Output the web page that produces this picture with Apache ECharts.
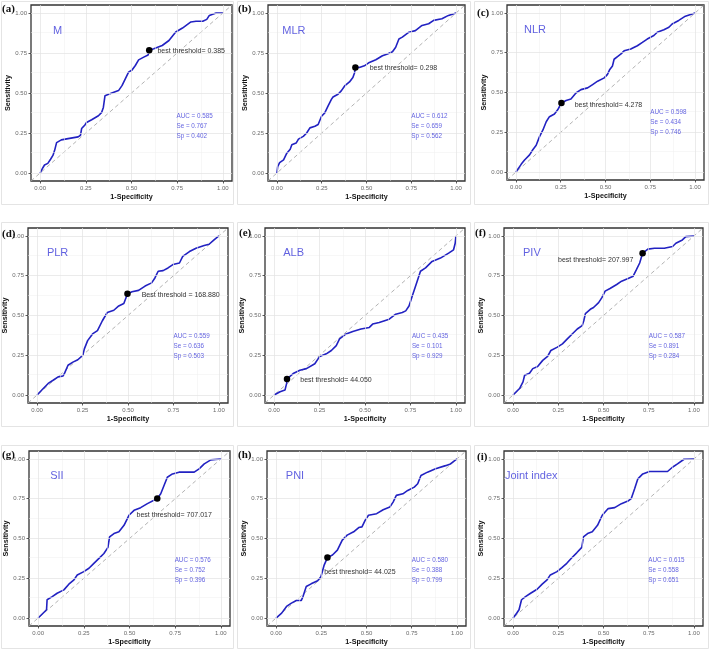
<!DOCTYPE html>
<html><head><meta charset="utf-8">
<script src="https://cdn.jsdelivr.net/npm/echarts@6/dist/echarts.min.js"></script>
<style>html,body{margin:0;padding:0;background:#fff}#c{width:709px;height:650px}</style>
</head><body><div id="c"></div>
<script>
// ---------------- data ----------------
const tickValues = [0, 0.25, 0.5, 0.75, 1];
const minorValues = [0.125, 0.375, 0.625, 0.875];
const panelTags = ['(a)', '(b)', '(c)', '(d)', '(e)', '(f)', '(g)', '(h)', '(i)'];
const markerNames = ['M', 'MLR', 'NLR', 'PLR', 'ALB', 'PIV', 'SII', 'PNI', 'Joint index'];
const aucValues = ['0.585', '0.612', '0.598', '0.559', '0.435', '0.587', '0.576', '0.580', '0.615'];
const seValues = ['0.767', '0.659', '0.434', '0.636', '0.101', '0.891', '0.752', '0.388', '0.558'];
const spValues = ['0.402', '0.562', '0.746', '0.503', '0.929', '0.284', '0.396', '0.799', '0.651'];
const thresholdTexts = ['best threshold= 0.385', 'best threshold= 0.298', 'best threshold= 4.278',
  'Best threshold = 168.880', 'best threshold= 44.050', 'best threshold= 207.997',
  'best threshold= 707.017', 'best threshold= 44.025', null];
const bestPoints = [[0.597, 0.767], [0.438, 0.659], [0.254, 0.434], [0.497, 0.636], [0.071, 0.101],
  [0.716, 0.891], [0.652, 0.752], [0.284, 0.38], null];

const rocM = [[0,0],[0.015,0.033],[0.024,0.05],[0.042,0.06],[0.057,0.086],[0.07,0.11],[0.079,0.14],[0.085,0.15],[0.09,0.19],[0.1,0.2],[0.116,0.207],[0.153,0.215],[0.208,0.226],[0.221,0.236],[0.227,0.278],[0.245,0.30],[0.254,0.316],[0.282,0.333],[0.319,0.358],[0.337,0.379],[0.346,0.41],[0.355,0.483],[0.365,0.494],[0.392,0.5],[0.429,0.515],[0.448,0.546],[0.484,0.63],[0.503,0.644],[0.521,0.672],[0.539,0.707],[0.567,0.724],[0.591,0.738],[0.597,0.767],[0.622,0.776],[0.668,0.797],[0.705,0.828],[0.742,0.881],[0.779,0.906],[0.825,0.944],[0.853,0.948],[0.89,0.948],[0.912,0.96],[0.926,0.985],[0.935,0.996],[0.963,1],[1,1]];
const rocMLR = [[0,0],[0.004,0.04],[0.015,0.065],[0.037,0.082],[0.055,0.124],[0.074,0.149],[0.083,0.176],[0.107,0.187],[0.12,0.212],[0.147,0.229],[0.166,0.25],[0.184,0.282],[0.212,0.292],[0.23,0.303],[0.249,0.355],[0.267,0.376],[0.285,0.418],[0.304,0.46],[0.313,0.475],[0.341,0.492],[0.359,0.513],[0.378,0.544],[0.405,0.569],[0.424,0.597],[0.433,0.625],[0.438,0.659],[0.46,0.66],[0.488,0.67],[0.516,0.691],[0.552,0.708],[0.589,0.733],[0.617,0.744],[0.645,0.758],[0.663,0.786],[0.681,0.838],[0.7,0.849],[0.737,0.88],[0.773,0.89],[0.81,0.922],[0.847,0.933],[0.875,0.954],[0.921,0.964],[0.958,0.985],[1,1]];
const rocNLR = [[0,0],[0.007,0.004],[0.03,0.05],[0.048,0.076],[0.076,0.108],[0.094,0.14],[0.113,0.168],[0.131,0.221],[0.15,0.263],[0.169,0.316],[0.187,0.348],[0.215,0.365],[0.233,0.391],[0.254,0.434],[0.28,0.45],[0.307,0.459],[0.335,0.497],[0.363,0.518],[0.4,0.529],[0.428,0.55],[0.456,0.571],[0.493,0.592],[0.511,0.614],[0.524,0.645],[0.539,0.667],[0.548,0.709],[0.567,0.726],[0.585,0.741],[0.604,0.762],[0.641,0.773],[0.678,0.794],[0.706,0.815],[0.733,0.836],[0.77,0.858],[0.789,0.879],[0.826,0.895],[0.854,0.91],[0.872,0.931],[0.909,0.953],[0.946,0.98],[1,1]];
const rocPLR = [[0,0],[0.007,0.004],[0.034,0.041],[0.061,0.073],[0.088,0.093],[0.116,0.114],[0.143,0.12],[0.152,0.139],[0.17,0.187],[0.197,0.207],[0.224,0.222],[0.251,0.249],[0.26,0.29],[0.278,0.342],[0.305,0.384],[0.332,0.405],[0.359,0.467],[0.386,0.519],[0.422,0.533],[0.449,0.56],[0.477,0.575],[0.489,0.612],[0.497,0.636],[0.522,0.649],[0.558,0.658],[0.594,0.685],[0.63,0.705],[0.648,0.736],[0.666,0.778],[0.693,0.782],[0.72,0.799],[0.747,0.82],[0.783,0.83],[0.801,0.871],[0.838,0.902],[0.874,0.923],[0.919,0.94],[0.946,0.948],[0.973,0.975],[1,1]];
const rocALB = [[0,0],[0.005,0.01],[0.033,0.021],[0.06,0.031],[0.069,0.073],[0.071,0.101],[0.105,0.135],[0.142,0.156],[0.178,0.166],[0.224,0.197],[0.251,0.243],[0.287,0.259],[0.315,0.28],[0.342,0.311],[0.36,0.353],[0.396,0.384],[0.433,0.4],[0.478,0.415],[0.524,0.425],[0.542,0.446],[0.578,0.456],[0.633,0.477],[0.669,0.508],[0.705,0.519],[0.724,0.529],[0.742,0.56],[0.76,0.622],[0.787,0.716],[0.805,0.778],[0.833,0.799],[0.869,0.84],[0.915,0.861],[0.96,0.892],[0.987,0.913],[0.996,0.954],[1,1]];
const rocPIV = [[0,0],[0.009,0.01],[0.036,0.041],[0.055,0.083],[0.064,0.124],[0.091,0.137],[0.109,0.166],[0.136,0.18],[0.164,0.218],[0.191,0.243],[0.209,0.28],[0.245,0.301],[0.273,0.322],[0.3,0.353],[0.327,0.384],[0.355,0.415],[0.382,0.436],[0.391,0.467],[0.4,0.512],[0.427,0.539],[0.445,0.55],[0.473,0.581],[0.491,0.612],[0.509,0.653],[0.536,0.67],[0.573,0.695],[0.6,0.716],[0.636,0.732],[0.664,0.747],[0.682,0.788],[0.7,0.83],[0.716,0.891],[0.745,0.917],[0.782,0.923],[0.836,0.923],[0.882,0.934],[0.9,0.954],[0.936,0.975],[0.955,0.996],[1,1]];
const rocSII = [[0,0],[0.007,0.01],[0.031,0.035],[0.046,0.052],[0.049,0.115],[0.077,0.135],[0.104,0.156],[0.141,0.177],[0.168,0.213],[0.196,0.24],[0.214,0.271],[0.25,0.292],[0.278,0.313],[0.305,0.344],[0.333,0.375],[0.36,0.406],[0.382,0.444],[0.391,0.51],[0.415,0.531],[0.442,0.542],[0.47,0.583],[0.497,0.646],[0.525,0.677],[0.561,0.694],[0.598,0.719],[0.634,0.74],[0.652,0.752],[0.671,0.781],[0.689,0.833],[0.707,0.885],[0.735,0.906],[0.771,0.917],[0.854,0.917],[0.881,0.938],[0.909,0.969],[0.945,0.994],[1,1]];
const rocPNI = [[0,0],[0.007,0.006],[0.031,0.031],[0.058,0.073],[0.085,0.094],[0.112,0.11],[0.139,0.11],[0.149,0.135],[0.167,0.198],[0.194,0.215],[0.23,0.235],[0.248,0.26],[0.266,0.333],[0.284,0.38],[0.312,0.396],[0.339,0.427],[0.366,0.49],[0.393,0.521],[0.429,0.542],[0.457,0.569],[0.475,0.573],[0.493,0.615],[0.511,0.646],[0.556,0.656],[0.592,0.681],[0.629,0.698],[0.647,0.729],[0.665,0.771],[0.701,0.781],[0.728,0.802],[0.764,0.823],[0.783,0.844],[0.801,0.896],[0.837,0.917],[0.882,0.938],[0.937,0.958],[0.964,0.969],[1,1]];
const rocJoint = [[0,0],[0.005,0.01],[0.02,0.03],[0.033,0.052],[0.047,0.115],[0.069,0.135],[0.097,0.156],[0.133,0.181],[0.161,0.213],[0.188,0.24],[0.206,0.271],[0.243,0.292],[0.27,0.317],[0.297,0.344],[0.325,0.379],[0.352,0.41],[0.38,0.444],[0.389,0.51],[0.412,0.531],[0.438,0.542],[0.467,0.583],[0.493,0.646],[0.526,0.688],[0.562,0.694],[0.599,0.719],[0.635,0.735],[0.653,0.75],[0.672,0.813],[0.69,0.875],[0.717,0.906],[0.754,0.921],[0.854,0.921],[0.881,0.948],[0.909,0.969],[0.945,0.998],[1,1]];
const curves = [rocM, rocMLR, rocNLR, rocPLR, rocALB, rocPIV, rocSII, rocPNI, rocJoint];
const diagonal = [[-0.05, -0.05], [1.05, 1.05]];

// ---------------- layout / style ----------------
const frames = [[31,5,201,176],[268,5,197,176],[507,5,197,175],
                [28,228,200,175],[265,228,200,175],[504,228,199,175],
                [29,451,201,175],[267,451,199,175],[504,451,199,175]];
const boxes = [[1,1,232,203],[237,1,233,203],[474,1,234,203],
               [1,222,232,204],[237,222,233,204],[474,222,234,204],
               [1,445,232,203],[237,445,233,203],[474,445,234,203]];
const tagPos = [[2,9],[238,9],[477,13],[2,234],[239,233],[475,233],[2,455],[238,455],[477,457]];
const titlePos = [[0.07,0.89],[0.03,0.89],[0.045,0.89],[0.054,0.89],[0.05,0.89],[0.055,0.89],[0.066,0.89],[0.054,0.89],[-0.045,0.89]];
const aucPos = [[0.746,0.294],[0.75,0.29],[0.75,0.31],[0.75,0.304],[0.758,0.304],[0.75,0.304],[0.747,0.298],[0.75,0.298],[0.747,0.298]];
const thrLabel = [['right',5,1],['right',11,1],['right',10,2],['right',11,1],['right',10,1],['left',6,7],['right',-24,17],['right',-6.5,14],null];
const yNameGap = [17,17,17,16,15,17,17,17,16];

const SANS = '"Liberation Sans", Arial, sans-serif';
const BLUE_TXT = '#3a3ad8';
const CURVE = '#2222c2';

const grids = [], xAxes = [], yAxes = [], series = [];
frames.forEach((f, i) => {
  grids.push({left: f[0], top: f[1], width: f[2], height: f[3], show: true,
    borderColor: '#333', borderWidth: 1.3, backgroundColor: '#fff', containLabel: false});
  const axisCommon = {
    gridIndex: i, type: 'value', min: -0.05, max: 1.05,
    axisLine: {show: false, onZero: false},
    axisTick: {show: true, length: 2.5, customValues: tickValues, lineStyle: {color: '#333', width: 0.8}},
    axisLabel: {customValues: tickValues, formatter: v => v.toFixed(2), fontSize: 6, color: '#6a6a6a', fontFamily: SANS, margin: 4},
    splitLine: {show: false}, nameLocation: 'middle',
    nameTextStyle: {fontWeight: 'bold', fontSize: 7.2, color: '#111', fontFamily: SANS}
  };
  xAxes.push(Object.assign({}, axisCommon, {name: '1-Specificity', nameGap: 12.5}));
  yAxes.push(Object.assign({}, axisCommon, {name: 'Sensitivity', nameGap: yNameGap[i]}));

  const gl = [];
  const major = {color: '#e2e2e2', width: 0.7, type: 'solid'};
  const minor = {color: '#efefef', width: 0.5, type: 'solid'};
  minorValues.forEach(v => { gl.push({xAxis: v, lineStyle: minor}); gl.push({yAxis: v, lineStyle: minor}); });
  tickValues.forEach(v => { gl.push({xAxis: v, lineStyle: major}); gl.push({yAxis: v, lineStyle: major}); });

  series.push({type: 'line', xAxisIndex: i, yAxisIndex: i, data: diagonal, symbol: 'none', z: 2,
    silent: true, animation: false,
    lineStyle: {color: '#aaaaaa', width: 0.9, type: [4, 3]},
    markLine: {silent: true, symbol: ['none', 'none'], label: {show: false}, animation: false, data: gl}});
  series.push({type: 'line', xAxisIndex: i, yAxisIndex: i, data: curves[i], symbol: 'none', z: 3,
    silent: true, animation: false, lineStyle: {color: CURVE, width: 1.6}});
  if (bestPoints[i]) {
    const tl = thrLabel[i];
    series.push({type: 'scatter', xAxisIndex: i, yAxisIndex: i, data: [bestPoints[i]], symbol: 'circle', symbolSize: 6.5, z: 10,
      silent: true, animation: false, itemStyle: {color: '#000', opacity: 1, borderWidth: 0},
      label: {show: true, formatter: thresholdTexts[i], position: tl[0], distance: 0,
        offset: [tl[0] === 'right' ? tl[1] : -tl[1], tl[2]], fontSize: 7, color: '#333', fontFamily: SANS}});
  }
  series.push({type: 'scatter', xAxisIndex: i, yAxisIndex: i, data: [titlePos[i]], symbolSize: 0, z: 5,
    silent: true, animation: false, itemStyle: {color: 'rgba(0,0,0,0)'},
    label: {show: true, formatter: markerNames[i], position: 'right', distance: 0, fontSize: 11, color: BLUE_TXT, fontFamily: SANS}});
  series.push({type: 'scatter', xAxisIndex: i, yAxisIndex: i, data: [aucPos[i]], symbolSize: 0, z: 5,
    silent: true, animation: false, itemStyle: {color: 'rgba(0,0,0,0)'},
    label: {show: true, position: 'right', distance: 0, fontSize: 6.3, lineHeight: 10, color: BLUE_TXT, fontFamily: SANS,
      formatter: 'AUC = ' + aucValues[i] + '\nSe = ' + seValues[i] + '\nSp = ' + spValues[i]}});
});

const graphic = [];
boxes.forEach(b => graphic.push({type: 'rect', z: -10, silent: true,
  shape: {x: b[0] + 0.5, y: b[1] + 0.5, width: b[2], height: b[3]},
  style: {fill: 'none', stroke: '#e4e4e4', lineWidth: 1}}));
panelTags.forEach((t, i) => graphic.push({type: 'text', silent: true, x: tagPos[i][0], y: tagPos[i][1], z: 100,
  style: {text: t, font: 'bold 11px "Liberation Serif", "Times New Roman", serif', fill: '#111', verticalAlign: 'middle', align: 'left'}}));

const chart = echarts.init(document.getElementById('c'), null, {renderer: 'canvas'});
chart.setOption({animation: false, backgroundColor: '#fff', grid: grids, xAxis: xAxes, yAxis: yAxes, series: series, graphic: graphic});
</script></body></html>
